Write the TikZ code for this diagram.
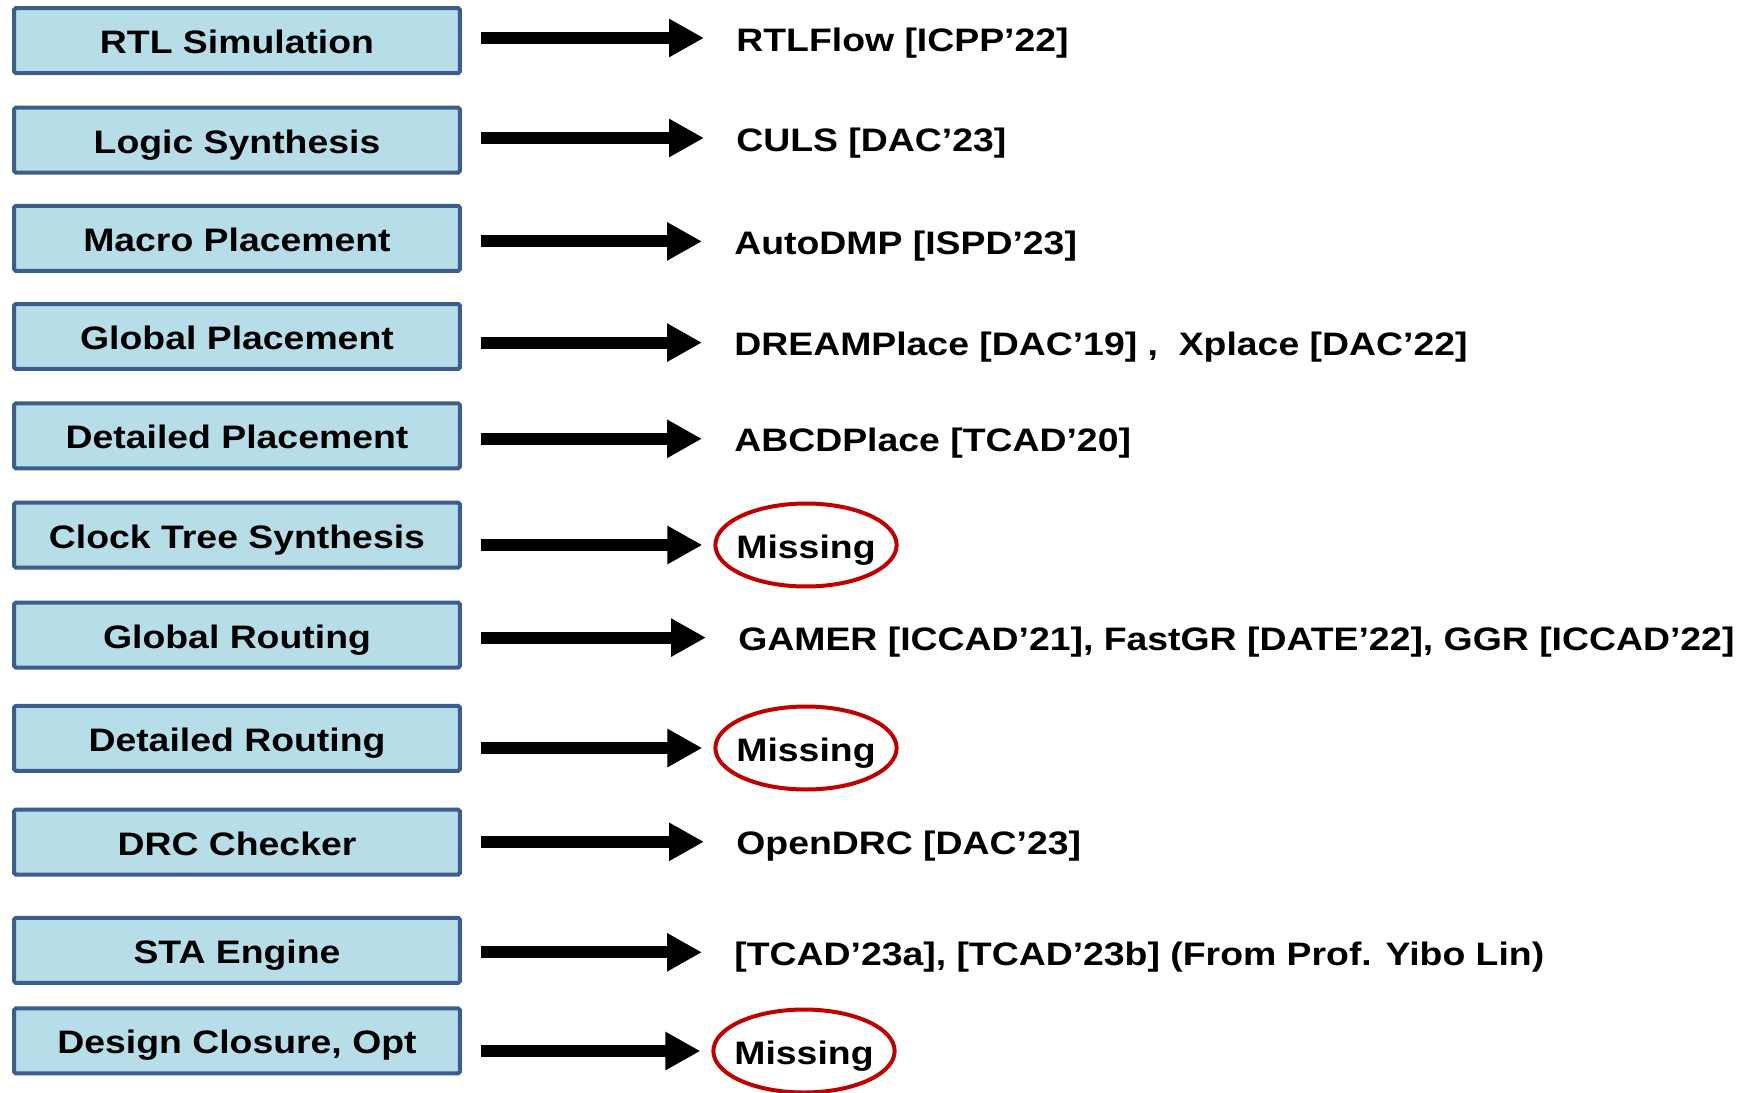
\documentclass[tikz,border=0pt]{standalone}
\usepackage{fontspec}
\setmainfont{Liberation Sans}[FakeStretch=1.15]
\usetikzlibrary{arrows.meta, positioning, shapes.geometric}
\definecolor{StageFill}{HTML}{B7DEE8}
\definecolor{StageLine}{HTML}{3B5E8C}
\definecolor{MissRed}{HTML}{C00000}

\begin{document}
\begin{tikzpicture}[x=0.02cm, y=-0.02cm,
    stage/.style={font=\fontsize{18.5}{22}\selectfont\bfseries, text height=14.8pt, text depth=0pt, rectangle, rounded corners=1pt, minimum height=1.3cm, minimum width=8.92cm, fill=StageFill, draw=StageLine, line width=0.08cm},
    work/.style={font=\fontsize{18.5}{22}\selectfont\bfseries, text height=14.8pt, text depth=0pt, anchor=west, inner sep=0pt},
    missing/.style={font=\fontsize{18.5}{22}\selectfont\bfseries, text height=14.8pt, text depth=0pt, ellipse, draw=MissRed, line width=0.08cm, minimum width=3.62cm, minimum height=1.66cm, inner xsep=-0.11cm, inner ysep=0pt},
    flow/.style={line width=0.24cm, shorten <=0.38cm, -{Triangle[length=0.7cm, width=0.72cm]}},
    totext/.style={flow, shorten >=0.64cm},
    tomiss/.style={flow, shorten >=0.22cm}]
                        \useasboundingbox (0,0) rectangle (1750,1092);

                        % design flow stages
                        \node[stage] (rtl) at (237,40.7) {RTL Simulation};
                        \node[stage] (logic) at (237,140.1) {Logic Synthesis};
                        \node[stage] (macro) at (237,238.3) {Macro Placement};
                        \node[stage] (gplace) at (237,336.5) {Global Placement};
                        \node[stage] (dplace) at (237,435.8) {Detailed Placement};
                        \node[stage] (cts) at (237,535.2) {Clock Tree Synthesis};
                        \node[stage] (groute) at (237,635.1) {Global Routing};
                        \node[stage] (droute) at (237,738.3) {Detailed Routing};
                        \node[stage] (drc) at (237,842.1) {DRC Checker};
                        \node[stage] (sta) at (237,950.4) {STA Engine};
                        \node[stage] (closure) at (237,1040.8) {Design Closure, Opt};

                        % GPU works
                        \node[work] (rtlflow) at (736,38) {RTLFlow [ICPP’22]};
                        \node[work] (culs) at (736,138) {CULS [DAC’23]};
                        \node[work] (autodmp) at (734,241.4) {AutoDMP [ISPD’23]};
                        \node[work] (dreamplace) at (734,342.6) {DREAMPlace [DAC’19] ,\ \ Xplace [DAC’22]};
                        \node[work] (abcdplace) at (734,438.8) {ABCDPlace [TCAD’20]};
                        \node[missing] (ctsmiss) at (806,545) {Missing};
                        \node[work] (gamer) at (738,637.6) {GAMER [ICCAD’21], FastGR [DATE’22], GGR [ICCAD’22]};
                        \node[missing] (droutemiss) at (806,748) {Missing};
                        \node[work] (opendrc) at (736,841.8) {OpenDRC [DAC’23]};
                        \node[work] (tcad) at (734,952.3) {[TCAD’23a], [TCAD’23b] (From Prof. Yibo Lin)};
                        \node[missing] (closuremiss) at (804,1051) {Missing};

                        \draw[totext] (rtl.east |- rtlflow.west) -- (rtlflow.west);
                        \draw[totext] (logic.east |- culs.west) -- (culs.west);
                        \draw[totext] (macro.east |- autodmp.west) -- (autodmp.west);
                        \draw[totext] (gplace.east |- dreamplace.west) -- (dreamplace.west);
                        \draw[totext] (dplace.east |- abcdplace.west) -- (abcdplace.west);
                        \draw[tomiss] (cts.east |- ctsmiss.west) -- (ctsmiss.west);
                        \draw[totext] (groute.east |- gamer.west) -- (gamer.west);
                        \draw[tomiss] (droute.east |- droutemiss.west) -- (droutemiss.west);
                        \draw[totext] (drc.east |- opendrc.west) -- (opendrc.west);
                        \draw[totext] (sta.east |- tcad.west) -- (tcad.west);
                        \draw[tomiss] (closure.east |- closuremiss.west) -- (closuremiss.west);
                    \end{tikzpicture}
\end{document}
